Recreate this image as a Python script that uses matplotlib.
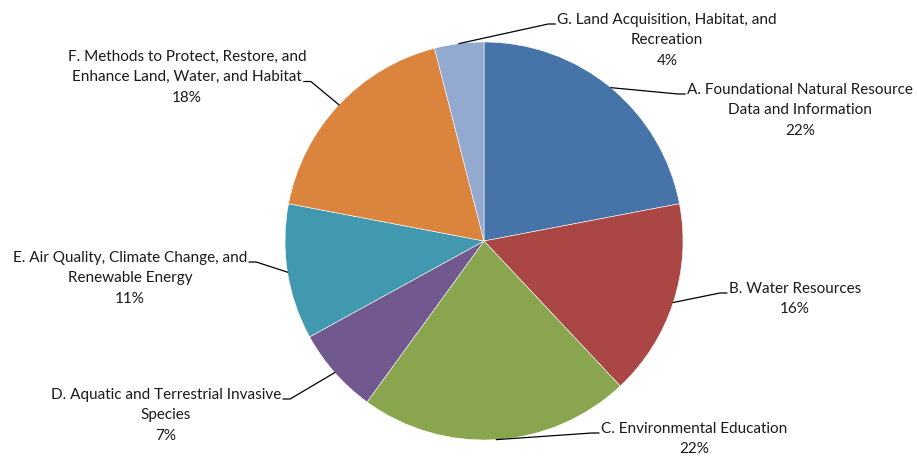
import numpy as np
import matplotlib
matplotlib.use("Agg")
import matplotlib.pyplot as plt

plt.rcParams["font.family"] = ["Lato", "DejaVu Sans"]

# Datos del grafico (porcentajes por categoria)
labels = [
    "A. Foundational Natural Resource\nData and Information",
    "B. Water Resources",
    "C. Environmental Education",
    "D. Aquatic and Terrestrial Invasive\nSpecies",
    "E. Air Quality, Climate Change, and\nRenewable Energy",
    "F. Methods to Protect, Restore, and\nEnhance Land, Water, and Habitat",
    "G. Land Acquisition, Habitat, and\nRecreation",
]
shares = [22, 16, 22, 7, 11, 18, 4]
colors = ["#4674A8", "#AA4644", "#89A54E", "#71588F", "#4198AF", "#DB843D", "#93A9CF"]

W, H = 917, 457
CX, CY, R = 484, H - 241, 199
LINE_H = 20.5

# posicion del texto (centro de la primera linea), lado y linea donde se ancla la guia
label_pos = [
    (800, 90, "left", 0),
    (795, 289, "left", 0),
    (694, 429, "left", 0),
    (166, 395, "right", 0),
    (130, 258, "right", 0),
    (187, 57, "right", 1),
    (667, 20, "left", 0),
]

fig = plt.figure(figsize=(W / 100, H / 100), dpi=100)
ax = fig.add_axes([0, 0, 1, 1])

wedges, _ = ax.pie(shares, colors=colors, startangle=90, counterclock=False,
                   center=(CX, CY), radius=R,
                   wedgeprops=dict(edgecolor="white", linewidth=0.4))

# pie() cambia los limites: se fijan despues
ax.set_xlim(0, W)
ax.set_ylim(0, H)
ax.set_aspect("equal")
ax.set_axis_off()

for w, lab, val, (tx, ty, side, k) in zip(wedges, labels, shares, label_pos):
    ax.text(tx, H - ty + 7, f"{lab}\n{val}%", ha="center", va="top",
            fontsize=11, color="#1a1a1a", linespacing=1.58)
    ref_y = H - ty - k * LINE_H
    probe = ax.text(tx, ref_y, lab.split("\n")[k], ha="center", va="center",
                    fontsize=11, alpha=0)
    fig.canvas.draw()
    fb = probe.get_window_extent().transformed(ax.transData.inverted())
    line_y = ref_y - 4
    if side == "left":
        x_end = fb.x0 - 2
        x_kink = x_end - 7
    else:
        x_end = fb.x1 + 2
        x_kink = x_end + 7
    mid = np.deg2rad((w.theta1 + w.theta2) / 2)
    px, py = CX + R * np.cos(mid), CY + R * np.sin(mid)
    ax.plot([px, x_kink, x_end], [py, line_y, line_y],
            color="black", linewidth=0.9)

fig.savefig("out.png", dpi=100)
